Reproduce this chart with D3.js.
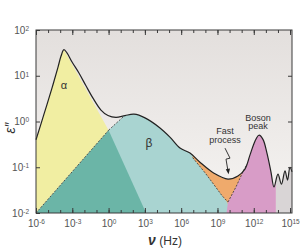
<!DOCTYPE html>
<html>
<head>
<meta charset="utf-8">
<script src="https://cdn.jsdelivr.net/npm/d3@7"></script>
<style>
body { margin: 0; background: #fff; }
svg { display: block; }
text { font-family: "Liberation Sans Narrow", "Liberation Sans", Arial, sans-serif; fill: #4a4a4a; }
</style>
</head>
<body>
<svg id="chart" width="300" height="250"></svg>
<script>
// exponents (log10) for ticks
var xMajor = [-6, -3, 0, 3, 6, 9, 12, 15];
var xMinor = d3.range(-6, 16);
var yTicks = [-2, -1, 0, 1, 2];
var yRight = [-1, 0, 1];

// total loss curve, log10(nu) / log10(eps'')
var totalNu  = [-6, -5.34, -4.68, -4.18, -3.93, -3.69, -3.44, -3.02, -2.45, -1.87, -1.29, -0.63, -0.05, 0.61, 1.36, 2.10, 3.01, 4.25, 5.07, 5.90, 6.73, 7.55, 8.71, 9.87, 10.69, 11.27, 11.69, 12.10, 12.43, 12.76, 13.09, 13.42, 13.67, 14.0, 14.29, 14.58, 14.79, 14.99, 15.16];
var totalEps = [-0.40, 0.16, 0.73, 1.19, 1.43, 1.57, 1.50, 1.30, 1.06, 0.78, 0.51, 0.25, 0.13, 0.09, 0.13, 0.16, 0.08, -0.14, -0.34, -0.58, -0.69, -0.89, -1.13, -1.26, -1.19, -1.04, -0.73, -0.43, -0.30, -0.39, -0.69, -1.10, -1.43, -1.15, -1.37, -1.08, -1.28, -1.00, -1.10];

// component shapes (clipped to the area under the total curve)
var alphaPts  = [[-6, -2], [-6, 2.2], [-3.69, 2.2], [-3.69, 1.57], [0, -0.19]];
var secPts    = [[-6, -2], [0, -0.19], [3.1, -2]];
var betaPts   = [[0, -2], [0, -0.19], [1.2, 0.10], [1.35, 0.8], [6.9, 0.8], [6.95, -0.79], [7.97, -1.12], [8.79, -1.41], [9.37, -1.62], [9.79, -1.76], [10.2, -2]];
var fastPts   = [[6.5, -2], [6.5, 0.5], [11.6, 0.5], [11.6, -2]];
var bosonPts  = [[9.75, -2], [9.87, -1.76], [10.53, -1.43], [11.1, -1.10], [11.44, -0.93], [11.6, 0.5], [13.83, 0.5], [13.83, -2]];
var tailPts   = [[13.83, -2], [13.83, 0.5], [15.16, 0.5], [15.16, -2]];

// dashed component edges
var edgeSec   = [[-6, -2], [0, -0.19]];
var edgeBetaL = [[0, -0.19], [1.2, 0.10]];
var edgeBetaR = [[6.95, -0.79], [7.97, -1.12], [8.79, -1.41], [9.37, -1.62], [9.87, -1.76]];
var edgeBoson = [[9.87, -1.76], [10.53, -1.43], [11.1, -1.10], [11.44, -0.93]];

var svg = d3.select('#chart');
var margin = { top: 30, bottom: 37, left: 36, right: 8 };
var width = 300 - margin.left - margin.right;
var height = 250 - margin.top - margin.bottom;

var g = svg.append('g').attr('transform', 'translate(' + margin.left + ',' + margin.top + ')');

var x = d3.scaleLinear().domain([-6, 15.16]).range([0, width]);
var y = d3.scaleLinear().domain([-2, 2]).range([height, 0]);

var defs = svg.append('defs');
var grad = defs.append('linearGradient').attr('id', 'bg').attr('x1', 0).attr('y1', 0).attr('x2', 0).attr('y2', 1);
grad.append('stop').attr('offset', '0%').attr('stop-color', '#e3dfdd');
grad.append('stop').attr('offset', '100%').attr('stop-color', '#f6f4f2');

g.append('rect')
    .attr('width', width)
    .attr('height', height)
    .attr('fill', 'url(#bg)');

var total = totalNu.map((d, i) => [d, totalEps[i]]);

var area = d3.area()
    .x(d => x(d[0]))
    .y0(height)
    .y1(d => y(d[1]))
    .curve(d3.curveCatmullRom);

defs.append('clipPath').attr('id', 'under')
    .append('path')
    .attr('d', area(total));

var poly = d3.line().x(d => x(d[0])).y(d => y(d[1])).curve(d3.curveLinearClosed);
var open = d3.line().x(d => x(d[0])).y(d => y(d[1]));

var shapes = g.append('g').attr('clip-path', 'url(#under)');

[
    [alphaPts, '#f1eea2'],
    [fastPts, '#efaa6c'],
    [betaPts, '#a9d4d1'],
    [secPts, '#6bb5a7'],
    [bosonPts, '#d89cc7'],
    [tailPts, '#d9d5d6']
].forEach(s => {
    shapes.append('path')
        .attr('d', poly(s[0]))
        .attr('fill', s[1]);
});

[edgeSec, edgeBetaL, edgeBetaR, edgeBoson].forEach(e => {
    g.append('path')
        .attr('d', open(e))
        .attr('fill', 'none')
        .attr('stroke', '#333')
        .attr('stroke-width', 0.8)
        .attr('stroke-dasharray', '2,1.5');
});

g.append('path')
    .attr('d', d3.line().x(d => x(d[0])).y(d => y(d[1])).curve(d3.curveCatmullRom)(total))
    .attr('fill', 'none')
    .attr('stroke', '#222')
    .attr('stroke-width', 1.2);

// axes
function sup(sel) {
    sel.selectAll('.tick text')
        .text('10')
        .style('font-size', '10px')
        .style('fill', '#555')
        .append('tspan')
        .attr('dy', '-0.45em')
        .style('font-size', '6.5px')
        .text(d => d);
}

g.append('g')
    .attr('transform', 'translate(0,' + height + ')')
    .call(d3.axisBottom(x).tickValues(xMinor).tickSizeInner(-3).tickSizeOuter(0).tickFormat(''))
    .call(a => a.select('.domain').remove());

g.append('g')
    .attr('transform', 'translate(0,' + height + ')')
    .call(d3.axisBottom(x).tickValues(xMajor).tickSizeInner(-5).tickSizeOuter(0).tickPadding(7))
    .call(a => a.select('.domain').remove())
    .call(sup);

g.append('g')
    .call(d3.axisTop(x).tickValues(xMinor).tickSizeInner(-3).tickSizeOuter(0).tickFormat(''))
    .call(a => a.select('.domain').remove());

g.append('g')
    .call(d3.axisTop(x).tickValues(xMajor).tickSizeInner(-5).tickSizeOuter(0).tickFormat(''))
    .call(a => a.select('.domain').remove());

g.append('g')
    .call(d3.axisLeft(y).tickValues(yTicks).tickSizeInner(-4).tickSizeOuter(0).tickPadding(7))
    .call(a => a.select('.domain').remove())
    .call(sup);

g.append('g')
    .attr('transform', 'translate(' + width + ',0)')
    .call(d3.axisRight(y).tickValues(yRight).tickSizeInner(-4).tickSizeOuter(0).tickFormat(''))
    .call(a => a.select('.domain').remove());

g.selectAll('.tick line').attr('stroke', '#3a3a3a');

g.append('rect')
    .attr('width', width)
    .attr('height', height)
    .attr('fill', 'none')
    .attr('stroke', '#3a3a3a')
    .attr('stroke-width', 1);

// labels
g.append('text')
    .attr('x', x(-3.7)).attr('y', y(0.72))
    .attr('text-anchor', 'middle')
    .style('font-size', '11px').style('fill', '#333')
    .text('α');

g.append('text')
    .attr('x', x(3.34)).attr('y', y(-0.55))
    .attr('text-anchor', 'middle')
    .style('font-size', '12px').style('fill', '#333')
    .text('β');

var fast = g.append('text')
    .attr('text-anchor', 'middle')
    .style('font-size', '9px').style('fill', '#333');
fast.append('tspan').attr('x', x(9.62)).attr('y', y(-0.28)).text('Fast');
fast.append('tspan').attr('x', x(9.62)).attr('y', y(-0.48)).text('process');

var boson = g.append('text')
    .attr('text-anchor', 'middle')
    .style('font-size', '9px').style('fill', '#333');
boson.append('tspan').attr('x', x(12.35)).attr('y', y(0.02)).text('Boson');
boson.append('tspan').attr('x', x(12.35)).attr('y', y(-0.17)).text('peak');

// lightning arrow to the fast-process minimum
var ax = x(9.87), ay = y(-1.26) - 5;
g.append('path')
    .attr('d', 'M' + (ax - 3) + ',' + (ay - 26) + 'L' + (ax + 2) + ',' + (ay - 16) + 'L' + (ax - 2) + ',' + (ay - 15) + 'L' + ax + ',' + (ay - 3))
    .attr('fill', 'none')
    .attr('stroke', '#222')
    .attr('stroke-width', 0.9);
g.append('path')
    .attr('d', 'M' + (ax - 2.2) + ',' + (ay - 5) + 'L' + (ax + 0.6) + ',' + ay + 'L' + (ax + 2) + ',' + (ay - 5.6) + 'Z')
    .attr('fill', '#222');

// axis titles
svg.append('text')
    .attr('transform', 'translate(15,128) rotate(-90)')
    .attr('text-anchor', 'middle')
    .style('font-size', '14px')
    .style('font-style', 'italic')
    .style('fill', '#333')
    .text('ε″');

var xt = svg.append('text')
    .attr('x', margin.left + width / 2 + 1)
    .attr('y', 245)
    .attr('text-anchor', 'middle')
    .style('font-size', '12px')
    .style('fill', '#333');
xt.append('tspan').style('font-weight', 'bold').style('font-style', 'italic').style('font-size', '14px').text('ν');
xt.append('tspan').text(' (Hz)');
</script>
</body>
</html>
